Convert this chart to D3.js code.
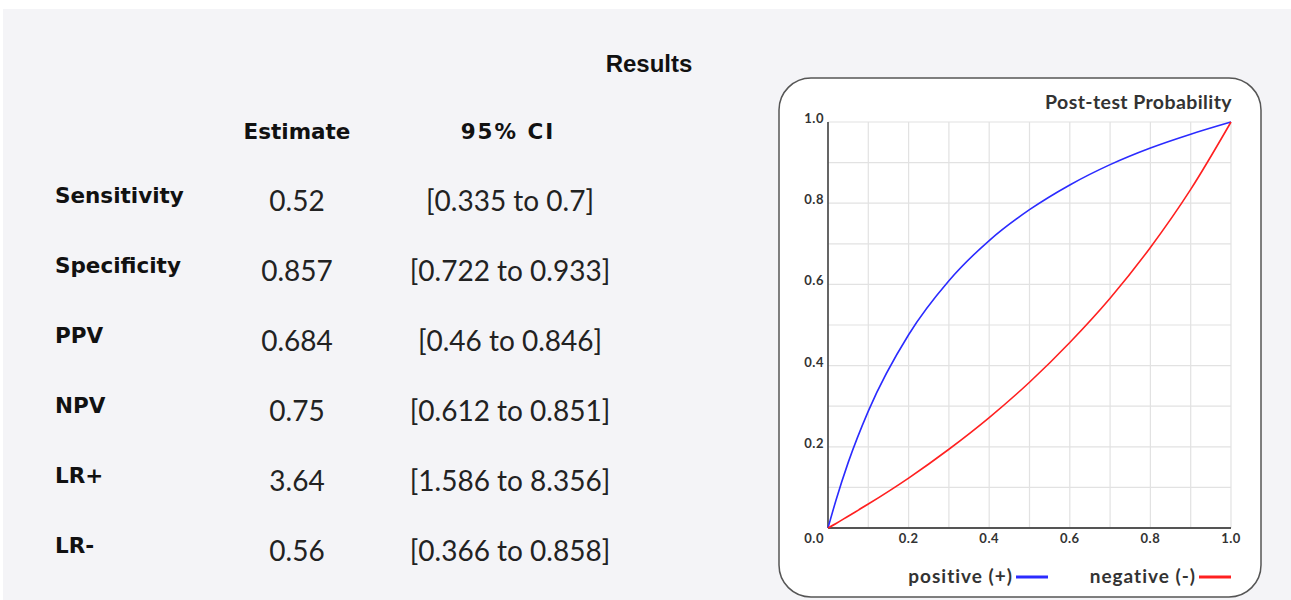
<!DOCTYPE html>
<html>
<head>
<meta charset="utf-8">
<script src="https://cdn.jsdelivr.net/npm/d3@7"></script>
<style>
  body { margin: 0; background: #fff; overflow: hidden; }
  svg { display: block; }
</style>
</head>
<body>
<div id="chart"></div>
<script>
// table data
const measures = ['Sensitivity', 'Specificity', 'PPV', 'NPV', 'LR+', 'LR-'];
const estimates = ['0.52', '0.857', '0.684', '0.75', '3.64', '0.56'];
const intervals = ['[0.335 to 0.7]', '[0.722 to 0.933]', '[0.46 to 0.846]', '[0.612 to 0.851]', '[1.586 to 8.356]', '[0.366 to 0.858]'];

// post-test probability curves
const preTest = [0, 0.02, 0.05, 0.1, 0.2, 0.3, 0.4, 0.5, 0.6, 0.7, 0.8, 0.9, 1.0];
const positive = [0, 0.069, 0.161, 0.288, 0.476, 0.609, 0.708, 0.784, 0.845, 0.895, 0.936, 0.970, 1.0];
const negative = [0, 0.011, 0.029, 0.059, 0.123, 0.194, 0.272, 0.359, 0.457, 0.566, 0.691, 0.834, 1.0];
const axisTicks = [0, 0.2, 0.4, 0.6, 0.8, 1.0];

const W = 1291, H = 600;
const svg = d3.select('#chart').append('svg')
    .attr('width', W)
    .attr('height', H);

// grey panel
svg.append('rect')
    .attr('x', 3).attr('y', 9)
    .attr('width', W - 3).attr('height', H - 9)
    .attr('fill', '#f4f4f7');

// --- results table ---
svg.append('text')
    .attr('x', 649).attr('y', 72)
    .attr('text-anchor', 'middle')
    .style('font-family', 'Liberation Sans, Arial, sans-serif')
    .style('font-weight', 'bold')
    .style('font-size', '24px')
    .attr('fill', '#111')
    .text('Results');

const headFont = 'DejaVu Sans, Verdana, sans-serif';
const valFont = 'Lato, sans-serif';

svg.append('text')
    .attr('x', 297).attr('y', 139)
    .attr('text-anchor', 'middle')
    .style('font-family', headFont).style('font-weight', 'bold').style('font-size', '21.5px')
    .attr('fill', '#111')
    .text('Estimate');
svg.append('text')
    .attr('x', 508).attr('y', 139)
    .attr('text-anchor', 'middle')
    .style('font-family', headFont).style('font-weight', 'bold').style('font-size', '21.5px')
    .style('letter-spacing', '2px')
    .attr('fill', '#111')
    .text('95% CI');

const rowY = d3.scalePoint().domain(measures).range([203, 553]);

const rows = svg.append('g').selectAll('g')
    .data(measures)
    .join('g')
    .attr('transform', d => `translate(0,${rowY(d)})`);

rows.append('text')
    .attr('x', 55)
    .style('font-family', headFont).style('font-weight', 'bold').style('font-size', '21.5px')
    .attr('fill', '#111')
    .text(d => d);

rows.append('text')
    .attr('x', 297).attr('y', 8)
    .attr('text-anchor', 'middle')
    .style('font-family', valFont).style('font-size', '28px')
    .attr('fill', '#222')
    .text((d, i) => estimates[i]);

rows.append('text')
    .attr('x', 510).attr('y', 8)
    .attr('text-anchor', 'middle')
    .style('font-family', valFont).style('font-size', '28px')
    .attr('fill', '#222')
    .text((d, i) => intervals[i]);

// --- post-test probability chart ---
svg.append('rect')
    .attr('x', 779).attr('y', 78)
    .attr('width', 482).attr('height', 519)
    .attr('rx', 32).attr('ry', 32)
    .attr('fill', '#fff')
    .attr('stroke', '#555')
    .attr('stroke-width', 1.5);

const x = d3.scaleLinear().domain([0, 1]).range([828, 1231]);
const y = d3.scaleLinear().domain([0, 1]).range([528, 122]);

const grid = svg.append('g');
grid.selectAll('line.v')
    .data(d3.range(1, 11).map(d => d / 10))
    .join('line')
    .attr('class', 'v')
    .attr('x1', d => x(d)).attr('x2', d => x(d))
    .attr('y1', y(0)).attr('y2', y(1))
    .attr('stroke', '#e2e2e2').attr('stroke-width', 1.2);
grid.selectAll('line.h')
    .data(d3.range(1, 11).map(d => d / 10))
    .join('line')
    .attr('class', 'h')
    .attr('x1', x(0)).attr('x2', x(1))
    .attr('y1', d => y(d)).attr('y2', d => y(d))
    .attr('stroke', '#e2e2e2').attr('stroke-width', 1.2);

// axes
svg.append('line')
    .attr('x1', x(0)).attr('x2', x(0))
    .attr('y1', y(0)).attr('y2', y(1))
    .attr('stroke', '#555').attr('stroke-width', 1.8);
svg.append('line')
    .attr('x1', x(0)).attr('x2', x(1))
    .attr('y1', y(0)).attr('y2', y(0))
    .attr('stroke', '#555').attr('stroke-width', 1.8);

const tickFont = 'Lato, sans-serif';
svg.append('g').selectAll('text')
    .data(axisTicks.slice(1))
    .join('text')
    .attr('x', x(0) - 4)
    .attr('y', d => y(d) + 1)
    .attr('text-anchor', 'end')
    .style('font-family', tickFont).style('font-weight', 'bold').style('font-size', '13px')
    .style('letter-spacing', '0.5px')
    .attr('fill', '#333')
    .text(d => d3.format('.1f')(d));

svg.append('g').selectAll('text')
    .data(axisTicks)
    .join('text')
    .attr('x', d => d === 0 ? x(0) - 4 : x(d))
    .attr('y', 543)
    .attr('text-anchor', d => d === 0 ? 'end' : 'middle')
    .style('font-family', tickFont).style('font-weight', 'bold').style('font-size', '13px')
    .style('letter-spacing', '0.5px')
    .attr('fill', '#333')
    .text(d => d3.format('.1f')(d));

const line = d3.line()
    .x(d => x(d[0]))
    .y(d => y(d[1]))
    .curve(d3.curveMonotoneX);

svg.append('path')
    .datum(preTest.map((p, i) => [p, positive[i]]))
    .attr('d', line)
    .attr('fill', 'none')
    .attr('stroke', '#2b2bff')
    .attr('stroke-width', 1.6);

svg.append('path')
    .datum(preTest.map((p, i) => [p, negative[i]]))
    .attr('d', line)
    .attr('fill', 'none')
    .attr('stroke', '#ff2020')
    .attr('stroke-width', 1.6);

svg.append('text')
    .attr('x', 1232).attr('y', 109)
    .attr('text-anchor', 'end')
    .style('font-family', 'Lato, sans-serif').style('font-weight', 'bold').style('font-size', '19.5px')
    .style('letter-spacing', '0.4px')
    .attr('fill', '#333')
    .text('Post-test Probability');

// legend
const legend = [
    { label: 'positive (+)', color: '#2b2bff', x: 1013 },
    { label: 'negative (-)', color: '#ff2020', x: 1196 }
];
const lg = svg.append('g').selectAll('g')
    .data(legend)
    .join('g');
lg.append('text')
    .attr('x', d => d.x).attr('y', 583)
    .attr('text-anchor', 'end')
    .style('font-family', 'Lato, sans-serif').style('font-weight', 'bold').style('font-size', '19px')
    .style('letter-spacing', '1px')
    .attr('fill', '#333')
    .text(d => d.label);
lg.append('line')
    .attr('x1', d => d.x + 3).attr('x2', d => d.x + 35)
    .attr('y1', 577).attr('y2', 577)
    .attr('stroke', d => d.color)
    .attr('stroke-width', 3);
</script>
</body>
</html>
